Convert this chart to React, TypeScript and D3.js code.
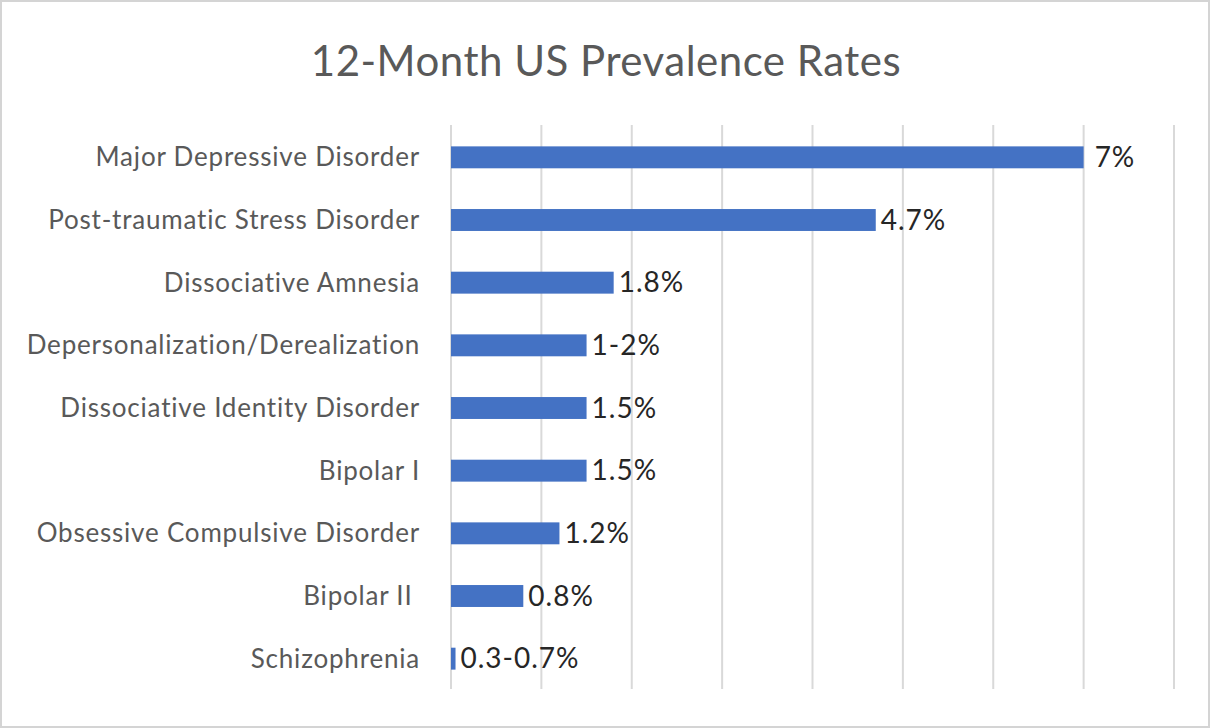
import React, { useEffect, useRef } from 'react';
import * as d3 from 'd3';

const categories = [
  'Major Depressive Disorder',
  'Post-traumatic Stress Disorder',
  'Dissociative Amnesia',
  'Depersonalization/Derealization',
  'Dissociative Identity Disorder',
  'Bipolar I',
  'Obsessive Compulsive Disorder',
  'Bipolar II ',
  'Schizophrenia',
];
const values = [7, 4.7, 1.8, 1.5, 1.5, 1.5, 1.2, 0.8, 0.05];
const valueLabels = ['7%', '4.7%', '1.8%', '1-2%', '1.5%', '1.5%', '1.2%', '0.8%', '0.3-0.7%'];
const title = '12-Month US Prevalence Rates';

const W = 1210;
const H = 728;
const FONT = 'Lato, "Open Sans", sans-serif';

const App: React.FC = () => {
  const ref = useRef<SVGSVGElement | null>(null);

  useEffect(() => {
    if (!ref.current) return;
    const svg = d3.select(ref.current);
    svg.selectAll('*').remove();

    const left = 451;
    const right = 1174;
    const top = 126;
    const bottom = 690;

    const x = d3.scaleLinear().domain([0, 8]).range([left, right]);
    const y = d3.scaleBand<string>()
      .domain(categories)
      .range([top, bottom])
      .paddingInner(0.65)
      .paddingOuter(0.325);

    svg.append('rect')
      .attr('x', 1).attr('y', 1)
      .attr('width', W - 2).attr('height', H - 2)
      .attr('fill', '#fff')
      .attr('stroke', '#d4d4d4')
      .attr('stroke-width', 2);

    svg.append('text')
      .attr('x', 606)
      .attr('y', 76)
      .attr('text-anchor', 'middle')
      .attr('font-family', FONT)
      .attr('font-size', 42)
      .attr('letter-spacing', 0.5)
      .attr('fill', '#595959')
      .text(title);

    // gridlines
    svg.append('g')
      .selectAll('line')
      .data(x.ticks(8))
      .enter().append('line')
      .attr('x1', d => x(d)).attr('x2', d => x(d))
      .attr('y1', top - 1).attr('y2', bottom - 1)
      .attr('stroke', '#d9d9d9')
      .attr('stroke-width', 2);

    svg.append('g')
      .selectAll('rect')
      .data(values)
      .enter().append('rect')
      .attr('x', x(0))
      .attr('y', (_, i) => y(categories[i])!)
      .attr('width', d => x(d) - x(0))
      .attr('height', y.bandwidth())
      .attr('fill', '#4472C4');

    svg.append('g')
      .selectAll('text')
      .data(categories)
      .enter().append('text')
      .attr('x', 420)
      .attr('y', d => y(d)! + y.bandwidth() / 2)
      .attr('dy', '0.35em')
      .attr('text-anchor', 'end')
      .attr('font-family', FONT)
      .attr('font-size', 26)
      .attr('letter-spacing', 0.8)
      .attr('fill', '#595959')
      .attr('xml:space', 'preserve')
      .text(d => d);

    svg.append('g')
      .selectAll('text')
      .data(values)
      .enter().append('text')
      .attr('x', (d, i) => x(d) + (i === 0 ? 11 : 5))
      .attr('y', (_, i) => y(categories[i])! + y.bandwidth() / 2)
      .attr('dy', '0.35em')
      .attr('font-family', FONT)
      .attr('font-size', 28)
      .attr('letter-spacing', 1)
      .attr('fill', '#262626')
      .text((_, i) => valueLabels[i]);
  }, []);

  return (
    <svg
      ref={ref}
      width={W}
      height={H}
      style={{ position: 'absolute', left: 0, top: 0, display: 'block' }}
    />
  );
};

export default App;
